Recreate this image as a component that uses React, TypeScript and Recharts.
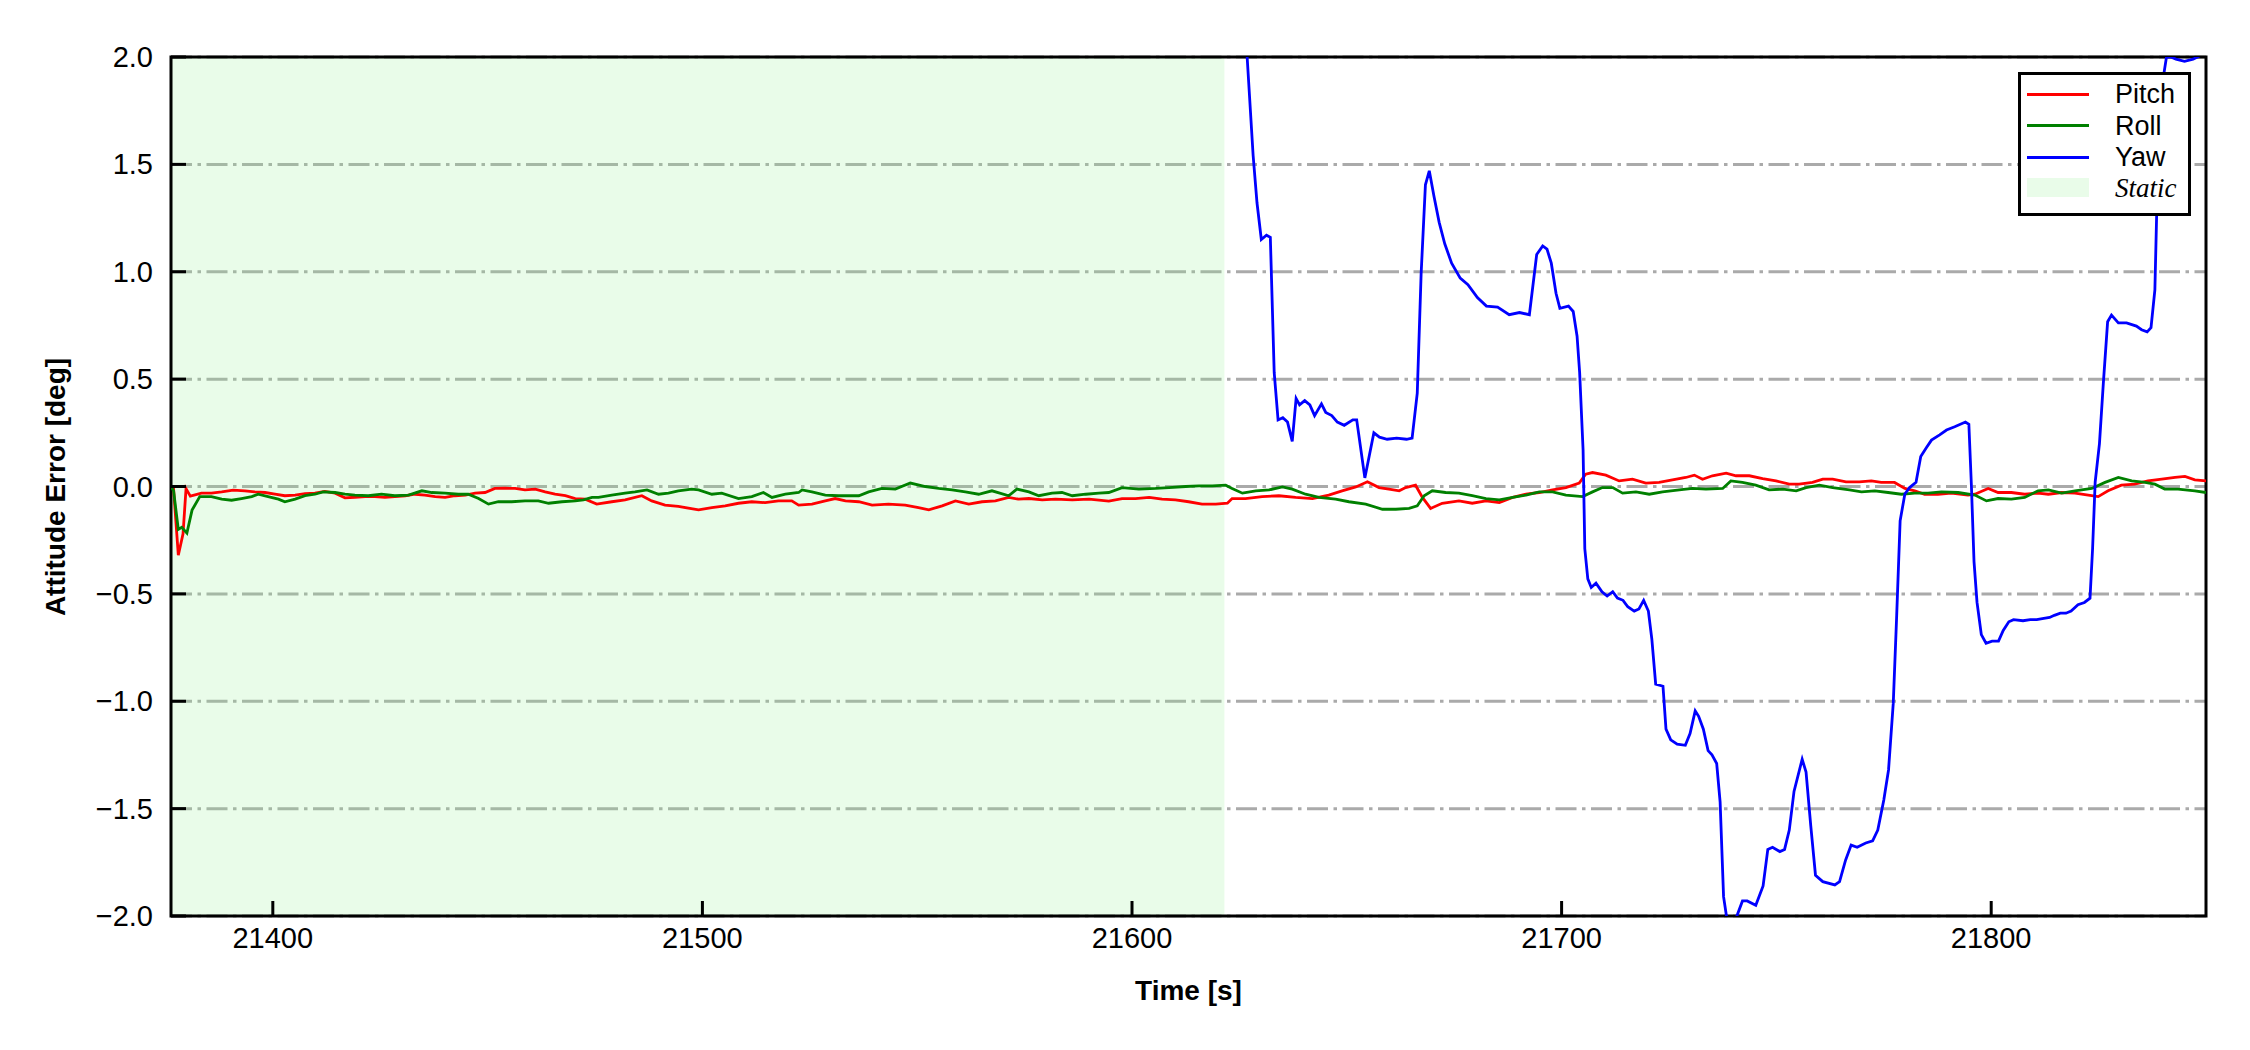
import React from 'react';
import {
  LineChart,
  Line,
  XAxis,
  YAxis,
  CartesianGrid,
  ReferenceArea,
  Legend,
} from 'recharts';

// time [s] / attitude error [deg]
const pitchTime = [
  21376.3, 21376.9, 21378.0, 21379.1, 21379.8, 21380.8, 21383.4, 21385.7, 21388.1, 21390.8,
  21393.5, 21395.8, 21398.2, 21400.5, 21402.8, 21405.2, 21407.5, 21409.8, 21412.1, 21414.5,
  21416.8, 21419.1, 21421.5, 21423.8, 21426.1, 21428.4, 21430.8, 21433.1, 21435.4, 21437.8,
  21440.1, 21442.4, 21444.8, 21447.1, 21449.4, 21451.7, 21454.1, 21456.4, 21458.7, 21461.1,
  21463.4, 21465.7, 21468.1, 21470.4, 21472.7, 21475.4, 21478.9, 21482.0, 21485.9, 21488.2,
  21491.3, 21494.4, 21499.1, 21502.2, 21505.3, 21508.4, 21511.5, 21514.6, 21517.7, 21520.8,
  21522.4, 21525.5, 21528.6, 21530.9, 21533.3, 21536.4, 21539.5, 21543.3, 21547.2, 21550.3,
  21552.7, 21555.8, 21558.9, 21562.0, 21565.1, 21568.2, 21571.3, 21573.6, 21576.0, 21579.1,
  21582.2, 21586.1, 21590.0, 21594.6, 21597.7, 21600.8, 21604.0, 21607.0, 21610.1, 21613.2,
  21616.3, 21619.5, 21622.2, 21623.3, 21626.4, 21630.3, 21634.2, 21638.1, 21642.0, 21645.8,
  21648.9, 21652.1, 21654.8, 21657.5, 21659.8, 21662.2, 21663.7, 21666.0, 21667.6, 21669.5,
  21672.2, 21676.1, 21679.2, 21682.4, 21685.5, 21688.6, 21691.7, 21694.8, 21697.9, 21701.0,
  21704.1, 21705.6, 21707.2, 21710.3, 21713.4, 21716.5, 21719.6, 21722.7, 21725.8, 21728.9,
  21730.9, 21732.8, 21735.1, 21738.3, 21740.6, 21743.7, 21746.8, 21749.9, 21753.0, 21755.3,
  21758.4, 21760.8, 21763.1, 21766.2, 21769.3, 21772.1, 21774.4, 21777.5, 21779.9, 21782.2,
  21784.5, 21787.6, 21790.7, 21794.6, 21796.2, 21799.3, 21801.6, 21804.7, 21807.8, 21810.9,
  21813.3, 21816.4, 21819.5, 21822.6, 21824.9, 21827.2, 21830.3, 21833.4, 21836.5, 21839.7,
  21842.8, 21845.1, 21847.4, 21850.0,
];
const pitchDeg = [
  0.0, -0.01, -0.32, -0.22, -0.01, -0.045, -0.031, -0.031, -0.025, -0.017,
  -0.02, -0.025, -0.028, -0.036, -0.043, -0.04, -0.033, -0.031, -0.023, -0.031,
  -0.053, -0.05, -0.047, -0.047, -0.051, -0.047, -0.043, -0.036, -0.04, -0.047,
  -0.051, -0.043, -0.04, -0.031, -0.028, -0.009, -0.008, -0.009, -0.016, -0.012,
  -0.025, -0.036, -0.043, -0.056, -0.059, -0.082, -0.071, -0.062, -0.043, -0.067,
  -0.087, -0.093, -0.109, -0.098, -0.09, -0.078, -0.071, -0.075, -0.067, -0.067,
  -0.087, -0.082, -0.067, -0.056, -0.067, -0.071, -0.087, -0.082, -0.087, -0.098,
  -0.109, -0.09, -0.067, -0.082, -0.071, -0.067, -0.051, -0.059, -0.056, -0.062,
  -0.059, -0.062, -0.059, -0.068, -0.056, -0.056, -0.051, -0.059, -0.062, -0.071,
  -0.082, -0.082, -0.078, -0.056, -0.056, -0.047, -0.043, -0.051, -0.056, -0.04,
  -0.02, -0.002, 0.022, -0.005, -0.012, -0.02, -0.005, 0.006, -0.051, -0.102,
  -0.078, -0.067, -0.078, -0.067, -0.075, -0.051, -0.036, -0.028, -0.016, -0.005,
  0.016, 0.057, 0.065, 0.053, 0.026, 0.034, 0.016, 0.019, 0.031, 0.042,
  0.053, 0.034, 0.05, 0.062, 0.05, 0.05, 0.037, 0.026, 0.011, 0.011,
  0.019, 0.034, 0.034, 0.022, 0.022, 0.026, 0.019, 0.019, -0.009, -0.02,
  -0.036, -0.036, -0.031, -0.04, -0.036, -0.009, -0.028, -0.028, -0.036, -0.031,
  -0.036, -0.028, -0.031, -0.04, -0.047, -0.02, 0.006, 0.011, 0.026, 0.034,
  0.042, 0.047, 0.031, 0.026,
];

const rollTime = [
  21376.3, 21376.9, 21378.0, 21378.8, 21380.0, 21381.2, 21383.0, 21385.7, 21388.1, 21390.4,
  21392.7, 21395.1, 21396.6, 21398.9, 21401.3, 21402.8, 21405.2, 21407.5, 21409.8, 21411.7,
  21414.5, 21416.8, 21419.1, 21422.2, 21425.3, 21428.4, 21431.6, 21434.7, 21437.0, 21440.1,
  21443.2, 21445.5, 21447.9, 21450.2, 21452.5, 21455.6, 21458.7, 21461.8, 21464.2, 21467.3,
  21470.4, 21472.3, 21474.3, 21475.8, 21478.9, 21482.0, 21484.3, 21487.1, 21489.8, 21492.1,
  21494.4, 21497.5, 21499.1, 21502.2, 21504.5, 21508.4, 21511.5, 21514.2, 21516.2, 21519.3,
  21522.4, 21523.2, 21525.5, 21528.6, 21531.7, 21536.4, 21538.7, 21541.8, 21544.9, 21548.4,
  21551.9, 21555.0, 21558.1, 21561.2, 21564.3, 21567.4, 21571.3, 21573.2, 21576.0, 21578.3,
  21581.4, 21583.7, 21586.1, 21589.2, 21592.3, 21594.6, 21597.7, 21601.6, 21605.5, 21608.6,
  21612.5, 21615.6, 21618.7, 21621.8, 21623.3, 21625.7, 21628.8, 21631.9, 21635.0, 21637.3,
  21640.4, 21643.5, 21647.4, 21650.5, 21654.4, 21658.3, 21661.4, 21664.5, 21666.4, 21668.0,
  21669.9, 21673.0, 21676.1, 21679.2, 21682.4, 21685.5, 21688.6, 21691.7, 21694.8, 21697.9,
  21701.0, 21704.9, 21707.2, 21709.5, 21711.9, 21714.2, 21717.3, 21720.4, 21723.5, 21727.4,
  21730.5, 21733.6, 21737.5, 21739.4, 21742.1, 21745.2, 21748.3, 21751.5, 21754.6, 21756.9,
  21760.0, 21763.1, 21767.0, 21769.8, 21772.9, 21776.0, 21779.1, 21782.2, 21785.3, 21788.4,
  21792.3, 21796.2, 21798.9, 21801.6, 21804.7, 21807.8, 21810.9, 21813.3, 21816.4, 21819.5,
  21823.4, 21826.5, 21829.6, 21832.7, 21835.8, 21838.1, 21840.4, 21843.5, 21847.4, 21850.0,
];
const rollDeg = [
  0.0, -0.02, -0.2, -0.19, -0.217, -0.11, -0.047, -0.047, -0.059, -0.064,
  -0.056, -0.047, -0.036, -0.047, -0.059, -0.071, -0.059, -0.043, -0.036, -0.025,
  -0.028, -0.036, -0.04, -0.043, -0.036, -0.043, -0.04, -0.02, -0.028, -0.031,
  -0.036, -0.036, -0.056, -0.082, -0.071, -0.071, -0.067, -0.067, -0.078, -0.071,
  -0.067, -0.062, -0.051, -0.051, -0.04, -0.031, -0.025, -0.016, -0.036, -0.031,
  -0.02, -0.012, -0.016, -0.036, -0.031, -0.056, -0.047, -0.028, -0.051, -0.036,
  -0.028, -0.016, -0.025, -0.04, -0.043, -0.043, -0.025, -0.009, -0.012, 0.016,
  0.0, -0.009, -0.016, -0.025, -0.036, -0.02, -0.043, -0.012, -0.025, -0.043,
  -0.031, -0.028, -0.043, -0.036, -0.031, -0.028, -0.005, -0.012, -0.009, -0.005,
  0.0, 0.003, 0.003, 0.006, -0.009, -0.031, -0.02, -0.016, -0.002, -0.012,
  -0.036, -0.051, -0.059, -0.071, -0.082, -0.106, -0.106, -0.102, -0.09, -0.043,
  -0.02, -0.028, -0.031, -0.043, -0.056, -0.062, -0.051, -0.04, -0.025, -0.025,
  -0.04, -0.047, -0.025, -0.005, -0.005, -0.031, -0.025, -0.036, -0.025, -0.016,
  -0.009, -0.012, -0.009, 0.026, 0.019, 0.006, -0.016, -0.012, -0.02, -0.005,
  0.006, -0.005, -0.016, -0.025, -0.02, -0.028, -0.036, -0.031, -0.031, -0.025,
  -0.028, -0.04, -0.067, -0.056, -0.059, -0.051, -0.02, -0.016, -0.031, -0.02,
  -0.009, 0.019, 0.042, 0.026, 0.019, 0.011, -0.012, -0.012, -0.02, -0.028,
];

const yawTime = [
  21626.5, 21626.8, 21628.2, 21629.1, 21630.1, 21631.3, 21632.2, 21633.1, 21634.0, 21635.1,
  21636.2, 21637.3, 21638.2, 21639.0, 21640.2, 21641.4, 21642.5, 21644.1, 21645.1, 21646.5,
  21647.8, 21649.4, 21651.4, 21652.3, 21654.2, 21656.3, 21657.6, 21659.4, 21661.6, 21663.9,
  21665.2, 21666.4, 21667.3, 21668.3, 21669.2, 21670.3, 21671.5, 21672.8, 21674.4, 21676.4,
  21678.2, 21680.4, 21682.5, 21685.1, 21687.8, 21690.2, 21692.5, 21694.2, 21695.6, 21696.6,
  21697.6, 21698.7, 21699.6, 21701.6, 21702.7, 21703.6, 21704.2, 21705.0, 21705.4, 21706.1,
  21706.9, 21708.0, 21709.4, 21710.6, 21711.9, 21713.0, 21714.3, 21715.4, 21716.9, 21718.0,
  21719.1, 21720.2, 21721.0, 21721.9, 21723.6, 21724.3, 21725.4, 21726.9, 21728.8, 21729.9,
  21731.1, 21731.9, 21733.0, 21734.1, 21735.0, 21736.1, 21736.9, 21737.7, 21738.6, 21740.0,
  21740.8, 21742.1, 21743.2, 21745.2, 21746.9, 21748.0, 21749.1, 21750.8, 21751.9, 21753.0,
  21754.1, 21756.0, 21756.9, 21758.0, 21759.1, 21760.8, 21763.6, 21764.7, 21766.1, 21767.4,
  21768.8, 21770.8, 21772.4, 21773.6, 21775.0, 21776.1, 21777.2, 21778.0, 21778.8, 21779.9,
  21781.0, 21782.5, 21783.6, 21784.9, 21786.1, 21788.0, 21789.6, 21791.5, 21794.0, 21794.8,
  21795.4, 21796.0, 21796.7, 21797.7, 21798.8, 21800.2, 21801.7, 21802.8, 21804.1, 21805.2,
  21807.4, 21809.1, 21810.6, 21811.9, 21813.6, 21814.7, 21816.1, 21817.4, 21818.6, 21820.2,
  21821.7, 21823.0, 21823.6, 21824.2, 21825.2, 21826.1, 21827.1, 21828.0, 21829.6, 21831.5,
  21833.8, 21835.0, 21836.3, 21837.2, 21838.1, 21838.5, 21839.3, 21840.1, 21840.8, 21841.8,
  21843.0, 21845.0, 21847.0, 21849.0, 21850.0,
];
const yawDeg = [
  2.05, 2.0, 1.54, 1.32, 1.15, 1.17, 1.16, 0.53, 0.31, 0.32,
  0.3, 0.21, 0.41, 0.38, 0.4, 0.38, 0.33, 0.385, 0.345, 0.33,
  0.3, 0.285, 0.31, 0.31, 0.04, 0.25, 0.23, 0.22, 0.225, 0.22,
  0.225, 0.435, 0.99, 1.405, 1.47, 1.35, 1.23, 1.13, 1.04, 0.97,
  0.94, 0.88, 0.84, 0.835, 0.8, 0.81, 0.8, 1.08, 1.12, 1.105,
  1.04, 0.9, 0.83, 0.84, 0.815, 0.7, 0.53, 0.17, -0.29, -0.43,
  -0.47, -0.45, -0.49, -0.51, -0.49, -0.52, -0.53, -0.56, -0.58, -0.57,
  -0.53, -0.58, -0.71, -0.92, -0.93, -1.13, -1.18, -1.2, -1.205, -1.15,
  -1.045, -1.07, -1.13, -1.23, -1.25, -1.29, -1.47, -1.91, -2.03, -2.06,
  -2.0, -1.93, -1.93, -1.95, -1.86, -1.69, -1.68, -1.7, -1.69, -1.6,
  -1.42, -1.27, -1.33, -1.58, -1.81, -1.84, -1.855, -1.84, -1.74, -1.67,
  -1.68, -1.66, -1.65, -1.6, -1.46, -1.32, -1.01, -0.6, -0.16, -0.035,
  -0.005, 0.02, 0.14, 0.18, 0.216, 0.24, 0.263, 0.278, 0.3, 0.29,
  0.0, -0.35, -0.54, -0.69, -0.73, -0.72, -0.72, -0.67, -0.63, -0.62,
  -0.625, -0.62, -0.62, -0.615, -0.61, -0.6, -0.59, -0.59, -0.58, -0.55,
  -0.54, -0.52, -0.29, 0.02, 0.2, 0.48, 0.767, 0.798, 0.762, 0.762,
  0.747, 0.73, 0.72, 0.74, 0.915, 1.256, 1.57, 1.91, 2.0, 2.0,
  1.99, 1.98, 1.99, 2.01, 2.03,
];

const xTicks = [21400, 21500, 21600, 21700, 21800];
const yTicks = [-2, -1.5, -1, -0.5, 0, 0.5, 1, 1.5, 2];
const xRange = [21376.3, 21850];
const staticSpan = [21376.3, 21621.5];

const seriesList = [
  { key: 'pitch', name: 'Pitch', color: '#ff0000', time: pitchTime, deg: pitchDeg },
  { key: 'roll', name: 'Roll', color: '#008000', time: rollTime, deg: rollDeg },
  { key: 'yaw', name: 'Yaw', color: '#0000ff', time: yawTime, deg: yawDeg },
];

const W = 2250;
const H = 1050;
const PLOT_LEFT = 171;
const PLOT_TOP = 57;
const PLOT_RIGHT = 2206;
const PLOT_BOTTOM = 916;
const SANS = '"Liberation Sans", Arial, sans-serif';

const fmtY = (v: number) => v.toFixed(1).replace('-', '\u2212');

const YTick = (props: any) => {
  const { y, payload } = props;
  return (
    <g>
      <line x1={PLOT_LEFT} x2={PLOT_LEFT + 15} y1={y} y2={y} stroke="#000" strokeWidth={3} />
      <text x={153} y={y + 10} textAnchor="end" fontFamily={SANS} fontSize={29} fill="#000">
        {fmtY(payload.value)}
      </text>
    </g>
  );
};

const XTick = (props: any) => {
  const { x, payload } = props;
  return (
    <g>
      <line x1={x} x2={x} y1={PLOT_BOTTOM} y2={PLOT_BOTTOM - 15} stroke="#000" strokeWidth={3} />
      <text x={x} y={PLOT_BOTTOM + 32} textAnchor="middle" fontFamily={SANS} fontSize={29} fill="#000">
        {payload.value}
      </text>
    </g>
  );
};

const LegendBox = () => (
  <div
    style={{
      position: 'relative',
      width: 173,
      height: 144,
      boxSizing: 'border-box',
      border: '3px solid #000',
      background: '#fff',
    }}
  >
    {seriesList.map((s, i) => (
      <div key={s.key} style={{ position: 'absolute', left: 6, top: 19 + i * 31.5, height: 0 }}>
        <div style={{ position: 'absolute', left: 0, top: -1.5, width: 62, height: 3, background: s.color }} />
        <div
          style={{
            position: 'absolute',
            left: 88,
            top: -16,
            fontFamily: SANS,
            fontSize: 27,
            lineHeight: '32px',
            color: '#000',
            whiteSpace: 'nowrap',
          }}
        >
          {s.name}
        </div>
      </div>
    ))}
    <div style={{ position: 'absolute', left: 6, top: 103, width: 62, height: 19, background: '#90ee90', opacity: 0.2 }} />
    <div
      style={{
        position: 'absolute',
        left: 94,
        top: 97,
        fontFamily: '"Liberation Serif", "Times New Roman", serif',
        fontStyle: 'italic',
        fontSize: 27,
        lineHeight: '32px',
        color: '#000',
      }}
    >
      Static
    </div>
  </div>
);

export default function App() {
  return (
    <div style={{ width: W, height: H, background: '#fff' }}>
      <style>{'body{margin:0}'}</style>
      <LineChart
        width={W}
        height={H}
        margin={{ top: PLOT_TOP, right: W - PLOT_RIGHT, left: 0, bottom: 0 }}
      >
        <CartesianGrid
          vertical={false}
          stroke="#aaaaaa"
          strokeWidth={3}
          strokeDasharray="21 5.5 3.5 5.5"
        />
        <ReferenceArea
          x1={staticSpan[0]}
          x2={staticSpan[1]}
          y1={-2}
          y2={2}
          fill="#90ee90"
          fillOpacity={0.2}
          stroke="none"
        />
        <XAxis
          type="number"
          dataKey="t"
          domain={xRange}
          allowDataOverflow
          ticks={xTicks}
          height={H - PLOT_BOTTOM}
          tick={<XTick />}
          tickLine={false}
          axisLine={false}
          label={{
            content: () => (
              <text
                x={(PLOT_LEFT + PLOT_RIGHT) / 2}
                y={1000}
                textAnchor="middle"
                fontFamily={SANS}
                fontWeight="bold"
                fontSize={28}
                fill="#000"
              >
                Time [s]
              </text>
            ),
          }}
        />
        <YAxis
          type="number"
          domain={[-2, 2]}
          allowDataOverflow
          ticks={yTicks}
          width={PLOT_LEFT}
          tick={<YTick />}
          tickLine={false}
          axisLine={false}
          label={{
            content: () => (
              <text
                x={55}
                y={487}
                transform="rotate(-90, 55, 487)"
                textAnchor="middle"
                dominantBaseline="central"
                fontFamily={SANS}
                fontWeight="bold"
                fontSize={28}
                fill="#000"
              >
                Attitude Error [deg]
              </text>
            ),
          }}
        />
        {seriesList.map((s) => (
          <Line
            key={s.key}
            data={s.time.map((t, i) => ({ t, v: s.deg[i] }))}
            dataKey="v"
            name={s.name}
            type="linear"
            stroke={s.color}
            strokeWidth={2.8}
            dot={false}
            activeDot={false}
            isAnimationActive={false}
          />
        ))}
        <ReferenceArea
          x1={xRange[0]}
          x2={xRange[1]}
          y1={-2}
          y2={2}
          fill="none"
          stroke="#000"
          strokeWidth={3}
          ifOverflow="visible"
        />
        <Legend
          layout="horizontal"
          verticalAlign="middle"
          align="center"
          wrapperStyle={{ position: 'absolute', left: 2018, top: 72, width: 173, height: 144 }}
          content={() => <LegendBox />}
        />
      </LineChart>
    </div>
  );
}
